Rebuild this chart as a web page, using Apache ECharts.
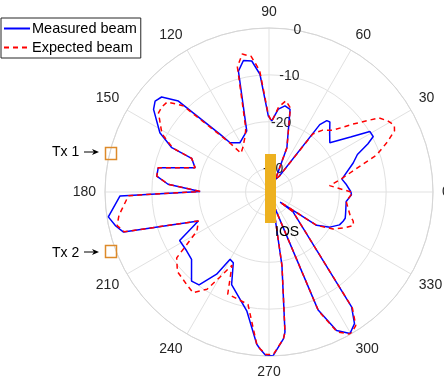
<!DOCTYPE html>
<html>
<head>
<meta charset="utf-8">
<script src="https://cdn.jsdelivr.net/npm/echarts@6/dist/echarts.min.js"></script>
<style>
  html, body { margin: 0; padding: 0; background: #fff; }
  #chart { width: 444px; height: 380px; }
</style>
</head>
<body>
<div id="chart"></div>
<script>
// angle in degrees, gain in dB
const angles = [
  0, 6, 10, 19, 23, 26, 28, 31, 34, 39, 44, 49, 51, 53, 57, 63, 68,
  75.7, 79.5, 83.6, 87.8, 90.5, 94.4, 97.5, 101, 104.2, 110, 113, 120.5, 125.9, 128.3, 130.3,
  134.9, 138.5, 141.4, 144.4, 151.5, 155.5, 156.5, 161.8, 167.6, 171.9, 175.6, 179.5,
  181.5, 188.8, 192.5, 195.4, 202.3, 208.5, 215.5, 221, 229, 233, 237.5, 240, 243.2, 248,
  259.4, 265.4, 266.7, 269, 271.5, 275.6, 276.5, 280, 283, 288, 292.6, 296, 299.8, 303, 305.7,
  320.6, 318, 325, 330, 335, 338.5, 341, 344, 353, 358, 360
];
const measured = [
  -17.5, -18.5, -19.2, -16, -14.5, -11.5, -9.8, -9.9, -14, -18.3, -17, -15.2, -15.4, -17, -31, -32, -24.8,
  -16.8, -16.3, -17.2, -19.8, -18.8, -9.8, -6.8, -6.4, -8.4, -21.1, -21.7, -22.8, -22, -21.6, -18.8,
  -7.6, -4.4, -3.9, -4.7, -8.5, -12.2, -17, -18.4, -10.8, -10.8, -13.4, -20.3,
  -3.2, -0.3, -1.5, -2.8, -18.7, -13.3, -13.4, -13.1, -9.8, -10.2, -14.2, -18.4, -18.1, -13.7,
  -9.2, -2.4, -1.5, 0, -0.1, -3.5, -4.9, -19.1, -29.2, -33, -7.7, -2.1, -0.2, -1.5, -4.8,
  -28.4, -31.8, -22.6, -20, -18.4, -18, -17.8, -18, -18.4, -17.4, -17.5
];
const expected = [
  -17.5, -22, -19.5, -10.7, -7.5, -5.2, -4.7, -5.5, -6.7, -12, -16, -17.5, -18.5, -19.5, -31, -32, -24.8,
  -16.5, -15.2, -16.8, -20, -18.5, -9, -5.8, -5, -7.5, -20.5, -22, -24, -24.8, -22, -19.5,
  -9, -6, -5.8, -6, -9, -12.5, -17, -18.4, -10.8, -10.8, -13.4, -20.3,
  -5, -2.6, -1.8, -3, -18.7, -17.5, -10.8, -9.1, -8.5, -8.1, -10.4, -14, -17.5, -11.5,
  -10.6, -2.4, -1.5, -0.3, -0.3, -3.5, -4.9, -19, -29, -33, -7.5, -1.8, 0, -1, -4.5,
  -28.4, -31.8, -22.6, -19.2, -17, -15.6, -16, -17, -18.4, -17.5, -17.5
];
const rMin = -35;
const rMax = 0;

const chart = echarts.init(document.getElementById('chart'), null, { renderer: 'canvas' });
const grid = '#e1e1e1';
const ink = '#262626';
const font = 'Liberation Sans, Arial, Helvetica, sans-serif';
const cx = 269, cy = 192, R = 164;

function arrow(x1, x2, y) {
  return [
    { type: 'line', z: 100, shape: { x1: x1, y1: y, x2: x2 - 4, y2: y }, style: { stroke: '#000', lineWidth: 1 } },
    { type: 'polygon', z: 100, shape: { points: [[x2, y], [x2 - 7, y - 3], [x2 - 5, y], [x2 - 7, y + 3]] }, style: { fill: '#000' } }
  ];
}

chart.setOption({
  animation: false,
  backgroundColor: '#fff',
  textStyle: { fontFamily: font },
  legend: {
    orient: 'vertical',
    left: 1,
    top: 18,
    padding: [3, 4, 3, 2],
    itemGap: 4,
    itemWidth: 26,
    itemHeight: 15,
    borderColor: ink,
    borderWidth: 1,
    borderRadius: 0,
    backgroundColor: '#fff',
    itemStyle: { opacity: 0 },
    textStyle: { color: '#000', fontSize: 14.5, fontFamily: font, padding: [0, 0, 0, -3] },
    data: ['Measured beam', 'Expected beam']
  },
  polar: [
    { center: [cx, cy], radius: R },
    { center: [cx, cy], radius: R }
  ],
  angleAxis: [
    {
      polarIndex: 0, type: 'value', min: 0, max: 360, interval: 30,
      startAngle: 0, clockwise: false,
      axisLine: { lineStyle: { color: '#d6d6d6', width: 1 } },
      axisTick: { show: false },
      axisLabel: {
        color: ink, fontSize: 14, fontFamily: font, margin: 9,
        formatter: v => (v === 360 ? '' : String(v))
      },
      splitLine: { lineStyle: { color: grid, width: 1 } }
    },
    {
      polarIndex: 1, type: 'value', min: 0, max: 360, startAngle: 80, clockwise: false,
      axisLine: { show: false }, axisTick: { show: false },
      axisLabel: { show: false }, splitLine: { show: false }
    }
  ],
  radiusAxis: [
    {
      polarIndex: 0, type: 'value', min: rMin, max: rMax, splitNumber: 4,
      axisLine: { show: false }, axisTick: { show: false }, axisLabel: { show: false },
      splitLine: { lineStyle: { color: grid, width: 1 } }
    },
    {
      polarIndex: 1, type: 'value', min: rMin, max: rMax, splitNumber: 4,
      axisLine: { show: false }, axisTick: { show: false }, splitLine: { show: false },
      axisLabel: {
        color: ink, fontSize: 14, fontFamily: font, margin: 0, rotate: 0,
        align: 'center', verticalAlign: 'middle', showMinLabel: false,
        formatter: v => (v === rMin ? '' : String(v))
      }
    }
  ],
  series: [
    {
      name: 'Measured beam', type: 'line', coordinateSystem: 'polar', polarIndex: 0,
      data: angles.map((a, i) => [measured[i], a]),
      symbol: 'none', smooth: false, z: 3,
      lineStyle: { color: '#0000ff', width: 1.5 },
      itemStyle: { color: '#0000ff' }
    },
    {
      name: 'Expected beam', type: 'line', coordinateSystem: 'polar', polarIndex: 0,
      data: angles.map((a, i) => [expected[i], a]),
      symbol: 'none', smooth: false, z: 4,
      lineStyle: { color: '#ff0000', width: 1.5, type: [5, 4] },
      itemStyle: { color: '#ff0000' }
    }
  ],
  graphic: [
    { type: 'rect', z: 100, shape: { x: 265, y: 154, width: 11, height: 69 }, style: { fill: '#edb120' } },
    { type: 'rect', z: 100, shape: { x: 105.5, y: 147.5, width: 11, height: 12 }, style: { fill: 'none', stroke: '#dd8a2a', lineWidth: 1.5 } },
    { type: 'rect', z: 100, shape: { x: 105.5, y: 245.5, width: 11, height: 12 }, style: { fill: 'none', stroke: '#dd8a2a', lineWidth: 1.5 } },
    { type: 'text', z: 100, x: 52, y: 152, style: { text: 'Tx 1', fontSize: 14, fontFamily: font, fill: '#000', verticalAlign: 'middle' } },
    { type: 'text', z: 100, x: 52, y: 253, style: { text: 'Tx 2', fontSize: 14, fontFamily: font, fill: '#000', verticalAlign: 'middle' } },
    ...arrow(84, 99, 152),
    ...arrow(84, 99, 252),
    { type: 'text', z: 100, x: 275, y: 232, style: { text: 'IOS', fontSize: 14, fontFamily: font, fill: '#000', verticalAlign: 'middle' } }
  ]
});
</script>
</body>
</html>
